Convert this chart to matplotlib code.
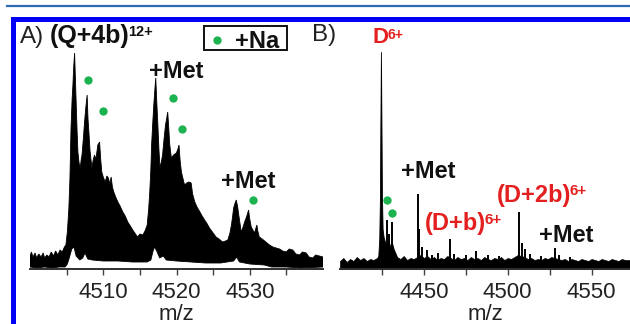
import numpy as np
import matplotlib
matplotlib.use("Agg")
import matplotlib.pyplot as plt
from matplotlib.patches import Rectangle
from matplotlib.lines import Line2D
from matplotlib.ticker import FixedLocator

plt.rcParams['font.family'] = ['Liberation Sans', 'DejaVu Sans']

W, H = 630, 324
RED = '#e3201f'
GREEN = '#1db350'

# ---------------- panel A data: (Q+4b)12+ envelope (arb. intensity) ----------
a_up_mz = [4500.0, 4500.2, 4500.4, 4500.7, 4500.9, 4501.2, 4501.5, 4501.8, 4502.0, 4502.3,
           4502.6, 4502.9, 4503.2, 4503.5, 4503.8, 4504.1, 4504.4, 4504.7, 4504.9, 4505.1,
           4505.3, 4505.45, 4505.6, 4505.75, 4505.86, 4505.95, 4506.09, 4506.2, 4506.3, 4506.42,
           4506.54, 4506.7, 4506.86, 4507.0, 4507.1, 4507.3, 4507.45, 4507.6, 4507.8, 4507.92,
           4508.04, 4508.2, 4508.45, 4508.6, 4508.8, 4509.0, 4509.26, 4509.5, 4509.65, 4509.8,
           4510.0, 4510.26, 4510.5, 4510.7, 4510.9, 4511.08, 4511.25, 4511.44, 4511.7, 4512.0,
           4512.3, 4512.67, 4513.0, 4513.35, 4513.7, 4514.03, 4514.4, 4514.7, 4515.0, 4515.4,
           4515.7, 4516.0, 4516.2, 4516.35, 4516.5, 4516.6, 4516.75, 4516.9, 4517.05, 4517.17,
           4517.3, 4517.44, 4517.6, 4517.75, 4517.9, 4518.1, 4518.3, 4518.5, 4518.65, 4518.8,
           4518.95, 4519.07, 4519.3, 4519.6, 4519.98, 4520.2, 4520.34, 4520.5, 4520.67, 4520.9,
           4521.1, 4521.4, 4521.7, 4522.0, 4522.2, 4522.5, 4522.8, 4523.2, 4523.5, 4523.84,
           4524.2, 4524.5, 4525.0, 4525.4, 4525.8, 4526.3, 4526.7, 4527.0, 4527.3, 4527.5,
           4527.65, 4527.8, 4528.0, 4528.16, 4528.35, 4528.5, 4528.84, 4529.0, 4529.3, 4529.6,
           4529.84, 4530.0, 4530.2, 4530.65, 4530.97, 4531.1, 4531.3, 4531.7, 4532.2, 4532.7,
           4533.15, 4533.6, 4534.06, 4534.5, 4534.97, 4535.4, 4535.87, 4536.3, 4536.8, 4537.2,
           4537.7, 4538.1, 4538.6, 4539.0, 4539.5, 4540.0]
a_up_int = [13, 17, 12, 16, 11, 15, 12, 16, 11, 14,
            12, 17, 13, 18, 14, 19, 17, 22, 24, 37,
            60, 90, 141, 170, 184, 200, 216, 190, 167, 140,
            117, 106, 101, 110, 114, 132, 147, 160, 174, 150,
            137, 118, 101, 108, 114, 110, 124, 127, 110, 97,
            92, 87, 93, 91, 85, 92, 82, 77, 72, 67,
            63, 57, 53, 47, 43, 39, 35, 32, 35, 34,
            38, 44, 60, 77, 100, 124, 145, 164, 180, 191,
            168, 147, 120, 101, 106, 114, 130, 144, 150, 157,
            140, 125, 111, 114, 116, 120, 124, 108, 97, 90,
            84, 86, 87, 86, 75, 67, 62, 57, 53, 49,
            45, 41, 36, 32, 30, 27, 28, 29, 36, 44,
            52, 61, 66, 69, 62, 54, 37, 40, 47, 53,
            59, 50, 42, 36, 44, 38, 32, 30, 27, 24,
            22, 21, 20, 18, 17, 20, 19, 15, 14, 17,
            16, 12, 11, 14, 13, 12]
a_low_mz = [4500.0, 4501, 4502, 4503, 4504, 4504.8, 4505.1, 4505.4, 4505.7, 4506.0,
            4506.3, 4506.8, 4507.2, 4507.5, 4507.9, 4508.5, 4510, 4512, 4514, 4516.0,
            4516.5, 4516.8, 4517.0, 4517.3, 4517.7, 4518.2, 4518.6, 4520, 4522, 4524,
            4526, 4527.8, 4528.2, 4528.6, 4530, 4532, 4533, 4535, 4537, 4540]
a_low_int = [2, 1, 2, 1, 2, 2, 5, 12, 20, 22,
             13, 9, 11, 16, 10, 9, 8, 8, 7, 7,
             9, 18, 22, 18, 11, 13, 9, 8, 7, 6,
             6, 8, 12, 7, 5, 4, 2, 2, 1, 2]
a_na_mz = [4507.94, 4509.9, 4519.5, 4520.8, 4530.5]
a_na_int = [189, 158, 171, 140, 69]
a_ticks = [4510, 4520, 4530]
a_minor = [4505, 4515, 4525, 4535]

# ---------------- panel B data: D6+ region ----------------------------------
b_noise_mz = [4400, 4402, 4404, 4406, 4408, 4410, 4412, 4414, 4416, 4418, 4420, 4422, 4423.5,
              4434, 4436, 4438, 4440, 4442, 4444, 4446, 4448, 4450, 4452, 4454, 4456, 4458,
              4460, 4462, 4464, 4466, 4468, 4470, 4472, 4474, 4476, 4478, 4480, 4482, 4484,
              4486, 4488, 4490, 4492, 4494, 4496, 4498, 4500, 4502, 4504, 4506, 4508, 4510,
              4512, 4514, 4516, 4518, 4520, 4522, 4524, 4526, 4528, 4530, 4532, 4534, 4536,
              4538, 4540, 4542, 4544, 4546, 4548, 4550, 4552, 4554, 4556, 4558, 4560, 4562,
              4564, 4566, 4568, 4570, 4573]
b_noise_int = [8, 11, 7, 10, 8, 12, 9, 11, 8, 10, 9, 11, 14,
               12, 10, 13, 9, 11, 10, 12, 14, 11, 13, 10, 12, 9,
               11, 10, 13, 11, 9, 12, 10, 11, 9, 12, 10, 11, 9,
               12, 10, 9, 11, 10, 12, 9, 11, 10, 12, 14, 13, 12,
               10, 11, 9, 10, 9, 11, 10, 12, 11, 10, 9, 10, 8,
               10, 9, 8, 10, 9, 8, 10, 9, 8, 10, 9, 8, 10,
               9, 8, 10, 9, 9]
b_main_mz = [4422.8, 4423.4, 4423.8, 4424.1, 4424.4, 4424.7, 4425.0, 4425.4, 4426.0, 4427.0,
             4428.0, 4429.0, 4430.0, 4431.0, 4432.0, 4433.0, 4434.0]
b_main_int = [12, 30, 70, 150, 217, 150, 75, 40, 32, 26,
              24, 28, 22, 26, 20, 16, 12]
b_peak_mz = [4427.8, 4429.5, 4431.2, 4446.5, 4447.2, 4449.1, 4451.7, 4455, 4458.5, 4465.5,
             4468, 4475, 4481, 4488, 4495, 4506.9, 4508.3, 4510.2, 4513, 4520,
             4528.2, 4530.5, 4537]
b_peak_int = [49, 35, 47, 75, 40, 22, 19, 14, 16, 30,
              15, 14, 18, 14, 13, 57, 26, 20, 15, 13,
              21, 14, 12]
b_na_mz = [4427.8, 4431.2]
b_na_int = [69, 56]
b_ticks = [4450, 4500, 4550]
b_minor = [4425, 4475, 4525]


def px(x, y):
    return x / W, 1 - y / H


fig = plt.figure(figsize=(W / 100, H / 100), dpi=100)
fig.patch.set_facecolor('white')

# journal frame
fig.add_artist(Line2D([7 / W, 1], [1 - 6 / H, 1 - 6 / H], color='#2b6cb3', lw=1.6))
fig.add_artist(Rectangle(px(11, 22), 619 / W, 5 / H, color='#0000f5', lw=0))
fig.add_artist(Rectangle(px(11, 324), 5 / W, 302 / H, color='#0000f5', lw=0))

axA = fig.add_axes([30 / W, 55 / H, 293 / W, 249 / H])
axB = fig.add_axes([340 / W, 55 / H, 290 / W, 249 / H])

for ax in (axA, axB):
    for s in ('top', 'right', 'left'):
        ax.spines[s].set_visible(False)
    ax.spines['bottom'].set_color('#303030')
    ax.spines['bottom'].set_linewidth(1.4)
    ax.set_yticks([])
    ax.set_ylim(0, 249)
    ax.tick_params(axis='x', which='both', direction='out', length=4, width=1,
                   color='#404040', labelsize=16, pad=5, labelcolor='#222222')
    ax.set_xlabel('m/z', fontsize=16, labelpad=1, color='#222222')
    ax.patch.set_alpha(0)

# panel A spectrum
axA.fill(np.concatenate([a_up_mz, a_low_mz[::-1]]),
         np.concatenate([a_up_int, a_low_int[::-1]]),
         color='black', lw=0.6)
axA.plot(a_na_mz, a_na_int, 'o', color=GREEN, ms=6, mec='none')
axA.set_xlim(4500, 4540)
axA.xaxis.set_major_locator(FixedLocator(a_ticks))
axA.xaxis.set_minor_locator(FixedLocator(a_minor))

# panel B spectrum
axB.fill_between(b_noise_mz, 0, b_noise_int, color='black', lw=0.5)
axB.fill_between(b_main_mz, 0, b_main_int, color='black', lw=0.6)
axB.vlines(b_peak_mz, 0, b_peak_int, color='black', lw=1.4)
axB.plot(b_na_mz, b_na_int, 'o', color=GREEN, ms=6, mec='none')
axB.set_xlim(4400, 4572.9)
axB.xaxis.set_major_locator(FixedLocator(b_ticks))
axB.xaxis.set_minor_locator(FixedLocator(b_minor))

bold = dict(fontsize=17, fontweight='bold', clip_on=False)

# panel A labels
axA.text(4519.96, 191, '+Met', ha='center', va='baseline', color='#111111', **bold)
axA.text(4529.77, 81, '+Met', ha='center', va='baseline', color='#111111', **bold)
fig.text(*px(20, 43), 'A)', fontsize=17.5, ha='left', va='baseline', color='#222222')
qa = fig.text(*px(50, 43), '(Q+4b)', fontsize=18, fontweight='bold', ha='left',
              va='baseline', color='#111111')
axA.annotate('12+', xy=(1, 1), xycoords=qa, xytext=(-1.5, -1), textcoords='offset points',
             ha='left', va='top', fontsize=10.5, fontweight='bold', color='#111111')

# legend box
fig.add_artist(Rectangle(px(204, 50), 83 / W, 24 / H, fill=False, ec='#111111', lw=1.4))
fig.add_artist(Line2D([216.7 / W], [1 - 39.5 / H], marker='o', color=GREEN, ms=6, mec='none'))
fig.text(*px(235, 47.5), '+Na', fontsize=17, fontweight='bold', ha='left', va='baseline',
         color='#111111')

# panel B labels
fig.text(*px(312, 41), 'B)', fontsize=17.5, ha='left', va='baseline', color='#222222')
d = axB.text(4419.1, 226, 'D', ha='left', va='baseline', color=RED, fontsize=16,
             fontweight='bold', clip_on=False)
axB.annotate('6+', xy=(1, 1), xycoords=d, xytext=(-0.5, -1), textcoords='offset points',
             ha='left', va='top', fontsize=10, fontweight='bold', color=RED)
axB.text(4452.8, 91, '+Met', ha='center', va='baseline', color='#111111', **bold)
db = axB.text(4450.7, 39, '(D+b)', ha='left', va='baseline', color=RED, **bold)
axB.annotate('6+', xy=(1, 1), xycoords=db, xytext=(-1, -1), textcoords='offset points',
             ha='left', va='top', fontsize=11, fontweight='bold', color=RED)
d2b = axB.text(4493.6, 67, '(D+2b)', ha='left', va='baseline', color=RED, **bold)
axB.annotate('6+', xy=(1, 1), xycoords=d2b, xytext=(-1, 0), textcoords='offset points',
             ha='left', va='top', fontsize=11, fontweight='bold', color=RED)
axB.text(4535.1, 27, '+Met', ha='center', va='baseline', color='#111111', **bold)

fig.savefig('out.png', dpi=100)
